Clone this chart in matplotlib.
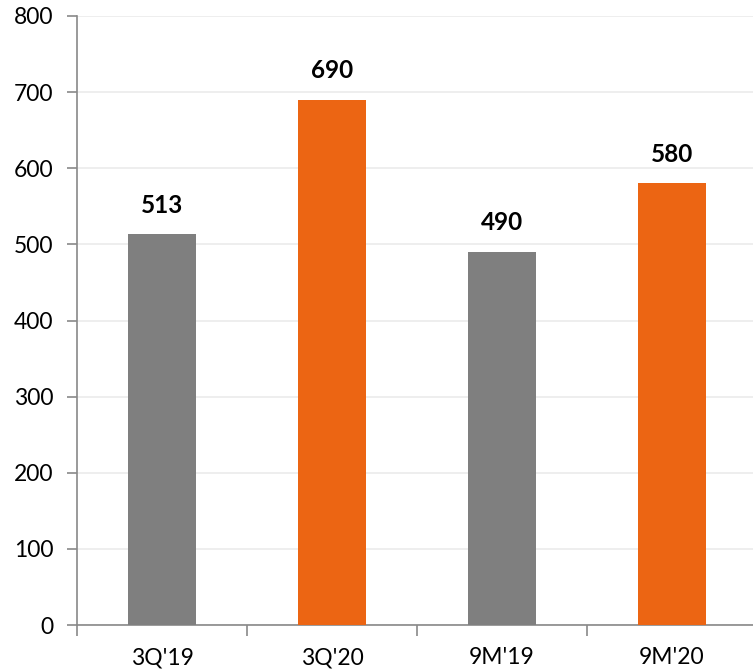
import matplotlib
matplotlib.use("Agg")
import matplotlib.pyplot as plt
from matplotlib.ticker import FixedLocator

categories = ["3Q'19", "3Q'20", "9M'19", "9M'20"]
values = [513, 690, 490, 580]
colors = ["#7F7F7F", "#EC6513", "#7F7F7F", "#EC6513"]
yticks = [0, 100, 200, 300, 400, 500, 600, 700, 800]

plt.rcParams['font.family'] = ['Lato', 'DejaVu Sans']

fig = plt.figure(figsize=(7.53, 6.71), dpi=100)
ax = fig.add_axes([77/753, 46/671, 680/753, 609/671])

x = list(range(len(categories)))
bars = ax.bar(x, values, width=0.4, color=colors, zorder=3)
for xi, v in zip(x, values):
    ax.text(xi, v + 23, str(v), ha='center', va='bottom', fontsize=17.5, fontweight='bold', color='black')

ax.set_xlim(-0.5, 3.5)
ax.set_ylim(0, 800)
ax.set_yticks(yticks)
ax.set_yticklabels([str(t) for t in yticks], fontsize=16.5)
ax.yaxis.grid(True, color='#EBEBEB', linewidth=1.2, zorder=0)
ax.set_axisbelow(True)

ax.set_xticks(x)
ax.set_xticklabels(categories, fontsize=16.5)
ax.tick_params(axis='x', which='major', length=0, pad=16)
ax.xaxis.set_minor_locator(FixedLocator([-0.5, 0.5, 1.5, 2.5, 3.5]))
ax.tick_params(axis='x', which='minor', length=8, color='#898989', width=1.2, direction='out')
ax.tick_params(axis='y', length=7, color='#898989', width=1.2, pad=10)

for s in ['top', 'right']:
    ax.spines[s].set_visible(False)
for s in ['left', 'bottom']:
    ax.spines[s].set_color('#898989')
    ax.spines[s].set_linewidth(1.2)

fig.savefig("out.png", dpi=100)
